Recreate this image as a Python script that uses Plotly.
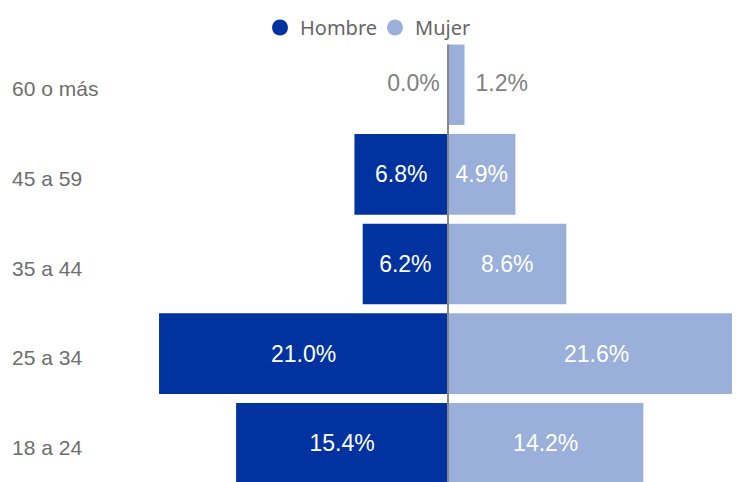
import plotly.graph_objects as go

categories = ["18 a 24", "25 a 34", "35 a 44", "45 a 59", "60 o más"]
hombre = [15.4, 21.0, 6.2, 6.8, 0.0]
mujer = [14.2, 21.6, 8.6, 4.9, 1.2]
series_names = ["Hombre", "Mujer"]

DARK = "#0033A0"
LIGHT = "#9AAFD9"
GRAY = "#7f7f7f"
LABEL_FONT = "Liberation Sans, Arial, sans-serif"
LEGEND_FONT = "Segoe UI, Noto Sans, Open Sans, sans-serif"
SMALL = 2.0  # values below this get their label outside the bar

W, H = 740, 482
OFF = 8  # page body margin
ML, MT = 120 - OFF, 40 - OFF
PLOT_W = W - ML

fig = go.Figure()
fig.add_trace(go.Bar(
    y=categories, x=[-v for v in hombre], orientation="h",
    marker=dict(color=DARK, line=dict(width=0)),
    text=[f"{v:.1f}%" if v >= SMALL else "" for v in hombre],
    textposition="inside", insidetextanchor="middle",
    insidetextfont=dict(color="white", size=23, family=LABEL_FONT),
    textangle=0, cliponaxis=False, showlegend=False, name=series_names[0],
    hoverinfo="skip",
))
fig.add_trace(go.Bar(
    y=categories, x=mujer, orientation="h",
    marker=dict(color=LIGHT, line=dict(width=0)),
    text=[f"{v:.1f}%" if v >= SMALL else "" for v in mujer],
    textposition="inside", insidetextanchor="middle",
    insidetextfont=dict(color="white", size=23, family=LABEL_FONT),
    textangle=0, cliponaxis=False, showlegend=False, name=series_names[1],
    hoverinfo="skip",
))
# outside labels for small values
h_small = [(c, v) for c, v in zip(categories, hombre) if v < SMALL]
m_small = [(c, v) for c, v in zip(categories, mujer) if v < SMALL]
fig.add_trace(go.Scatter(
    y=[c for c, _ in h_small], x=[-v for _, v in h_small], mode="text",
    text=[f"{v:.1f}% \u200a" for _, v in h_small], textposition="middle left",
    textfont=dict(color=GRAY, size=23, family=LABEL_FONT),
    showlegend=False, cliponaxis=False, hoverinfo="skip"))
fig.add_trace(go.Scatter(
    y=[c for c, _ in m_small], x=[v for _, v in m_small], mode="text",
    text=[f"\u2009 {v:.1f}%" for _, v in m_small], textposition="middle right",
    textfont=dict(color=GRAY, size=23, family=LABEL_FONT),
    showlegend=False, cliponaxis=False, hoverinfo="skip"))

# legend entries with circle markers
for nm, col in zip(series_names, [DARK, LIGHT]):
    fig.add_trace(go.Scatter(x=[None], y=[None], mode="markers", name=nm,
                             marker=dict(symbol="circle", size=20, color=col)))

# category labels left-aligned
for c in categories:
    fig.add_annotation(x=(10 - OFF - ML) / PLOT_W, xref="x domain", y=c, yref="y",
                       text=c, showarrow=False, xanchor="left", yshift=-4,
                       font=dict(size=21, color="#6e6e6e", family=LABEL_FONT))

fig.add_shape(type="line", xref="x", yref="y", x0=0, x1=0, y0=-0.6, y1=4.45,
              line=dict(color="#888888", width=2), layer="above")

px_per = 13.76
center = 448 - OFF - ML
fig.update_layout(
    width=W, height=H,
    margin=dict(l=ML, r=0, t=MT, b=0, autoexpand=False),
    paper_bgcolor="white", plot_bgcolor="white",
    barmode="relative", bargap=0.1,
    showlegend=True,
    legend=dict(orientation="h", xref="container", yref="container",
                x=(375 - OFF) / W, y=1, xanchor="center", yanchor="top",
                font=dict(size=20, color="#666666", family=LEGEND_FONT),
                itemsizing="trace", tracegroupgap=0, entrywidth=70,
                bgcolor="rgba(0,0,0,0)"),
    xaxis=dict(range=[-center / px_per, (PLOT_W - center) / px_per], visible=False, fixedrange=True),
    yaxis=dict(range=[4.5 - (H - MT) / 89.6, 4.5], showticklabels=False, showgrid=False,
               zeroline=False, showline=False, ticks="", fixedrange=True),
)

fig.write_html("out.html")
